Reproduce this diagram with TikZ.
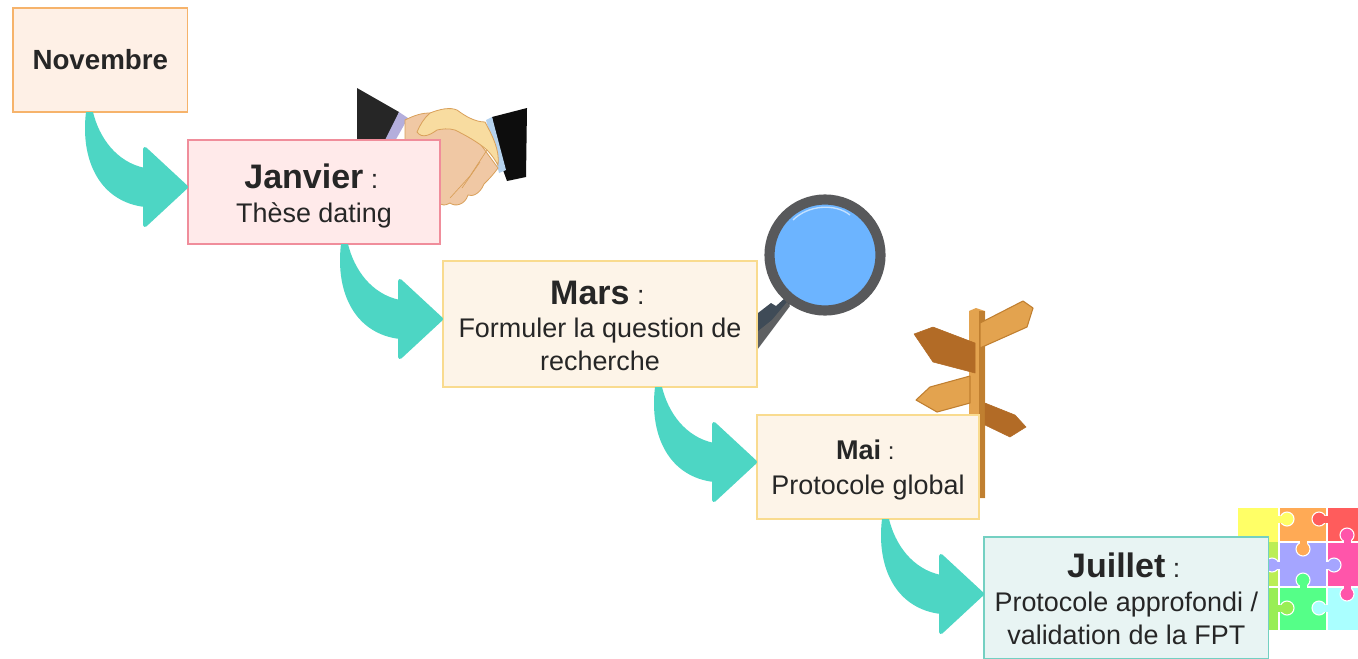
\documentclass[tikz,border=0pt]{standalone}
\usepackage{fontspec}
\setmainfont{Liberation Sans}
\usetikzlibrary{calc}
\definecolor{teal1}{HTML}{4DD6C4}
\definecolor{txt}{HTML}{262626}
\definecolor{signlight}{HTML}{E3A34F}
\definecolor{signdark}{HTML}{B26B26}
\definecolor{signedge}{HTML}{C07F30}
\definecolor{pyel}{HTML}{FFFF66}
\definecolor{pora}{HTML}{FFAA55}
\definecolor{pred}{HTML}{FF5C5C}
\definecolor{plim}{HTML}{BBEE55}
\definecolor{ppur}{HTML}{A5A5FF}
\definecolor{ppin}{HTML}{FF55AA}
\definecolor{plgr}{HTML}{99EE55}
\definecolor{pgre}{HTML}{55FF88}
\definecolor{pcya}{HTML}{AAFFFF}
\definecolor{cuffl}{HTML}{B4AEDC}
\definecolor{cuffr}{HTML}{B5D2EE}
\definecolor{handa}{HTML}{F0C8A4}
\definecolor{handb}{HTML}{F8DCA0}
\definecolor{handl}{HTML}{D9A05A}
\definecolor{ring}{HTML}{58595B}
\definecolor{lens}{HTML}{6CB4FF}
\definecolor{handleA}{HTML}{3F4B57}
\definecolor{handleB}{HTML}{5E6062}
\definecolor{novf}{HTML}{FEF0E6}
\definecolor{novd}{HTML}{F6B36B}
\definecolor{janf}{HTML}{FFEAEA}
\definecolor{jand}{HTML}{F08D9B}
\definecolor{marf}{HTML}{FDF4E8}
\definecolor{mard}{HTML}{F9DB8F}
\definecolor{juif}{HTML}{E8F4F3}
\definecolor{juid}{HTML}{74D0C2}
\newcommand{\bigt}[2]{\rule{0pt}{#2}{\fontsize{25.5}{30}\selectfont\bfseries #1}{\fontsize{20}{30}\selectfont\ :}\hspace*{4pt}}
\newcommand{\subt}{\fontsize{20.2}{24.6}\selectfont}
\newcommand{\knob}[4]{% x y colour angle
  \begin{scope}[shift={(#1,#2)},rotate=#4]
    \draw[white,line width=0.8pt,fill=#3] (0,0) circle (7);
    \fill[#3] (-4,-3.5) rectangle (-11,3.5);
  \end{scope}}
\tikzset{
  stepbox/.style={draw,anchor=north west,rectangle,inner sep=0pt,outer sep=0pt,line width=1.1pt,align=center,text=txt},
  curvearrow/.pic={
    \fill[teal1] (0,0)
      .. controls (-6,50) and (15,90) .. (59,95)
      -- (59,56)
      .. controls (30,50) and (13,25) .. (7,0) -- cycle;
    \draw[teal1,fill=teal1,line width=3pt,line join=round] (59,37) -- (100,75) -- (59,113) -- cycle;
  }
}
\begin{document}
\begin{tikzpicture}[x=0.75pt,y=-0.75pt]
\useasboundingbox (0,0) rectangle (1358,658);
\fill[white] (0,0) rectangle (1358,658);

% handshake
\fill[black!85] (357,88) -- (399,112) -- (385,150) -- (357,150) -- cycle;
\fill[black!95] (492,117) -- (527,108) -- (526,177) -- (507,181) -- (503,170) -- cycle;
\fill[cuffl] (399,112) -- (408,118) -- (390,150) -- (380,150) -- cycle;
\fill[cuffr] (486,120) -- (492,117) -- (506,170) -- (499,173) -- cycle;
\draw[fill=handa,draw=handl,line width=0.6pt]
  (405,120) .. controls (415,115) and (422,113) .. (430,113) -- (470,130)
  -- (498,168) .. controls (492,176) and (490,178) .. (484,184)
  .. controls (480,194) and (472,197) .. (468,195) .. controls (465,205) and (455,207) .. (450,203)
  .. controls (445,206) and (442,205) .. (440,204) -- (430,204) -- (405,170) -- cycle;
\draw[fill=handb,draw=handl,line width=0.6pt]
  (417,132) .. controls (420,125) and (424,118) .. (430,113)
  .. controls (440,109) and (450,107) .. (457,110)
  .. controls (465,116) and (475,122) .. (485,122)
  .. controls (492,135) and (500,150) .. (498,165)
  .. controls (495,160) and (492,155) .. (487,150)
  .. controls (478,142) and (465,135) .. (455,130)
  .. controls (448,128) and (442,129) .. (437,130)
  .. controls (430,135) and (422,139) .. (417,132) -- cycle;
\foreach \a/\b/\c/\d in {487/150/470/176, 480/162/462/188, 470/176/450/198}
  \draw[handl,line width=0.5pt] (\a,\b) -- (\c,\d);

% magnifier
\fill[handleA] (758,313) -- (771,303) -- (776,306) -- (785,298) -- (790,304) -- (758,340) -- cycle;
\fill[handleB] (757,350) -- (790,306) -- (787,302) -- (772,320) -- (757,332) -- cycle;
\draw[draw=ring,line width=7.6pt,fill=lens] (825,255) circle (55.5);
\draw[white!60!lens,line width=1pt] (793,220) .. controls (808,205) and (835,203) .. (850,215);

% signpost
\fill[signlight] (969,311) -- (976,308) -- (985,311) -- (985,498) -- (969,498) -- cycle;
\fill[signedge] (979,311) -- (985,311) -- (985,498) -- (979,498) -- cycle;
\draw[fill=signlight,draw=signedge,line width=0.8pt,line join=round] (980,323) -- (1023,301) -- (1033,308) -- (1027,327) -- (980,348) -- cycle;
\draw[fill=signdark,draw=signdark,line join=round] (975,343) -- (933,327) -- (914,334) -- (933,362) -- (975,373) -- cycle;
\draw[fill=signlight,draw=signedge,line width=0.8pt,line join=round] (970,376) -- (930,387) -- (916,400) -- (937,412) -- (970,403) -- cycle;
\draw[fill=signdark,draw=signdark,line join=round] (985,403) -- (1015,415) -- (1026,427) -- (1010,437) -- (985,425) -- cycle;

% puzzle
\fill[pyel] (1238,508) rectangle (1279,542);
\fill[pora] (1279,508) rectangle (1327,542);
\fill[pred] (1327,508) rectangle (1358,542);
\fill[plim] (1238,542) rectangle (1279,587);
\fill[ppur] (1279,542) rectangle (1327,587);
\fill[ppin] (1327,542) rectangle (1358,587);
\fill[plgr] (1238,587) rectangle (1279,630);
\fill[pgre] (1279,587) rectangle (1327,630);
\fill[pcya] (1327,587) rectangle (1358,630);
\draw[white,line width=0.8pt] (1279,508) -- (1279,630) (1327,508) -- (1327,630) (1279,542) -- (1358,542) (1238,587) -- (1358,587);
\knob{1287}{519}{pyel}{0}
\knob{1319}{519}{pred}{180}
\knob{1303}{549}{pora}{-90}
\knob{1272}{565}{ppur}{180}
\knob{1334}{565}{ppur}{0}
\knob{1303}{580}{pgre}{90}
\knob{1347}{535}{ppin}{90}
\knob{1347}{594}{ppin}{-90}
\knob{1287}{608}{plgr}{0}
\knob{1319}{608}{pcya}{180}

% boxes
\node[stepbox,fill=novf,draw=novd,minimum width=131pt,minimum height=78pt] (nov) at (13,8)
  {\fontsize{20.8}{25}\selectfont\bfseries Novembre};
\node[stepbox,fill=janf,draw=jand,minimum width=189pt,minimum height=78pt] (jan) at (188,140)
  {\bigt{Janvier}{24.6pt}\\[9pt]\subt Thèse dating};
\node[stepbox,fill=marf,draw=mard,minimum width=235.5pt,minimum height=94.5pt] (mars) at (443,261)
  {\bigt{Mars}{20pt}\\[9.5pt]\subt Formuler la question de\\[4.5pt]\subt recherche};
\node[stepbox,fill=marf,draw=mard,minimum width=166.5pt,minimum height=78pt] (mai) at (757,415)
  {\rule{0pt}{19.3pt}{\fontsize{20.3}{25}\selectfont\bfseries Mai}{\fontsize{18}{25}\selectfont\ :}\hspace*{4pt}\\[10pt]\subt Protocole global};
\node[stepbox,fill=juif,draw=juid,minimum width=213.5pt,minimum height=91pt] (jui) at (984,537)
  {\bigt{Juillet}{20pt}\\[9.5pt]\subt Protocole approfondi /\\[5pt]\subt validation de la FPT};

% connectors
\pic at ($(nov.south west)+(73,0)$) {curvearrow};
\pic at ($(jan.south west)+(153,0)$) {curvearrow};
\pic at ($(mars.south west)+(212,0)$) {curvearrow};
\pic at ($(mai.south west)+(125,0)$) {curvearrow};
\end{tikzpicture}
\end{document}
